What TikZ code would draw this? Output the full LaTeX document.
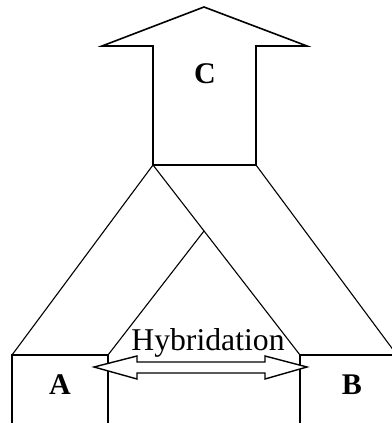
\documentclass[tikz,border=0pt]{standalone}
\usepackage{fontspec}
\setmainfont{Liberation Serif}
\begin{document}
\begin{tikzpicture}[x=1pt,y=-1pt,
  outline/.style={draw=black,line width=1.1pt,line join=miter},
  bigarrow/.style={draw=black,line width=1.6pt,fill=white,line join=miter},
  lbl/.style={font=\fontsize{30}{30}\selectfont\bfseries,anchor=base,inner sep=0pt},
  hyb/.style={font=\fontsize{31.7}{32}\selectfont,anchor=base,inner sep=0pt}]
\useasboundingbox (0,0) rectangle (391,423);
% named points
\coordinate (tip) at (204,7);
\coordinate (hl) at (102,46);
\coordinate (hr) at (307,46);
\coordinate (sl) at (153,46);
\coordinate (sr) at (256,46);
\coordinate (bl) at (153,165);
\coordinate (br) at (256,165);
\coordinate (al) at (12,355);
\coordinate (ar) at (108,355);
\coordinate (apex) at (204,231);
\coordinate (bbl) at (300,355);
\coordinate (bbr) at (397,355);
% arrow C
\draw[bigarrow] (bl) -- (sl) -- (hl) -- (tip) -- (hr) -- (sr) -- (br) -- cycle;
% branches
\draw[outline] (bl) -- (al);
\draw[outline] (bl) -- (bbl);
\draw[outline] (br) -- (bbr);
\draw[outline] (ar) -- (apex);
% boxes
\draw[outline] (12,423) -- (al) -- (ar) -- (108,423);
\draw[outline] (300,423) -- (bbl) -- (bbr);
% hybridation double arrow
\draw[outline,line width=1.4pt,fill=white] (94,367) -- (137,356) -- (137,362) -- (265,362) -- (265,356) -- (307,367) -- (265,379) -- (265,373) -- (137,373) -- (137,379) -- cycle;
% labels
\node[lbl] (C) at (205,83.5) {C};
\node[lbl] (A) at (60,394) {A};
\node[lbl] (B) at (352,394) {B};
\node[hyb] (H) at (208,350) {Hybridation};
\end{tikzpicture}
\end{document}
